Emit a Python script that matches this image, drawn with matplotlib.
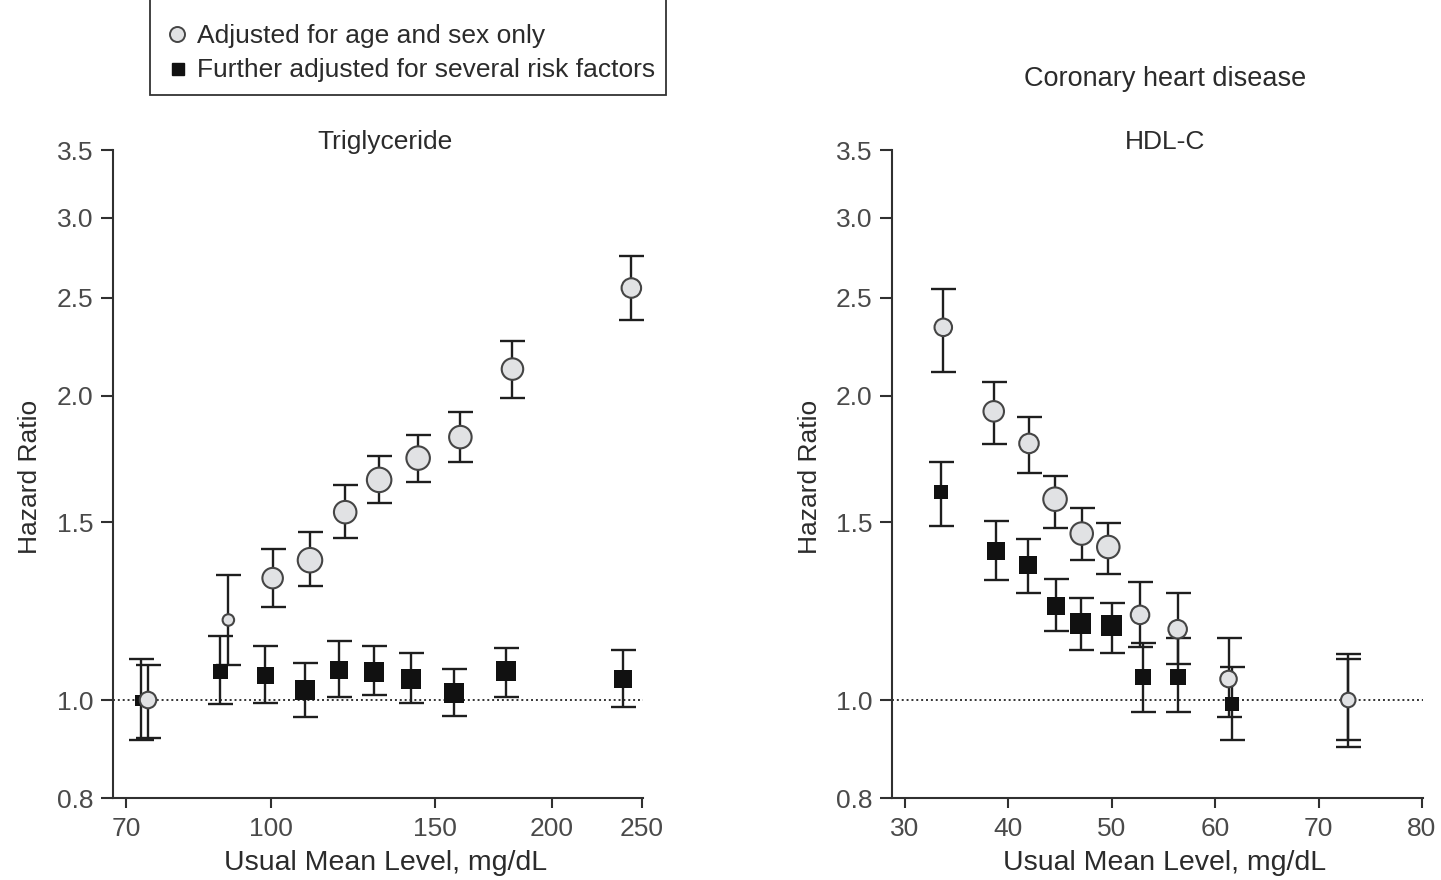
import matplotlib
matplotlib.use("Agg")
import matplotlib.pyplot as plt
from matplotlib.patches import Rectangle
from matplotlib.ticker import NullLocator

plt.rcParams['font.family'] = ['Liberation Sans', 'DejaVu Sans']

# ---------------- data ----------------
# Triglyceride panel
tg_age_x  = [73.9, 90.1, 100.5, 110.2, 120.2, 130.7, 143.9, 159.7, 181.6, 243.5]
tg_age_hr = [1.00, 1.20, 1.32, 1.375, 1.534, 1.651, 1.735, 1.820, 2.125, 2.556]
tg_age_lo = [0.917, 1.084, 1.236, 1.297, 1.446, 1.566, 1.643, 1.719, 1.99, 2.376]
tg_age_hi = [1.084, 1.33, 1.41, 1.466, 1.632, 1.743, 1.829, 1.927, 2.265, 2.749]

tg_adj_x  = [72.6, 88.3, 98.7, 108.9, 118.5, 128.9, 141.4, 157.2, 178.6, 238.3]
tg_adj_hr = [1.00, 1.066, 1.058, 1.023, 1.070, 1.066, 1.050, 1.017, 1.068, 1.048]
tg_adj_lo = [0.913, 0.990, 0.994, 0.963, 1.006, 1.011, 0.994, 0.964, 1.008, 0.985]
tg_adj_hi = [1.097, 1.156, 1.130, 1.089, 1.144, 1.130, 1.113, 1.073, 1.126, 1.120]

# HDL-C panel
hdl_age_x  = [33.70, 38.58, 41.99, 44.51, 47.09, 49.66, 52.73, 56.37, 61.29, 72.87]
hdl_age_hr = [2.337, 1.930, 1.794, 1.580, 1.461, 1.417, 1.214, 1.175, 1.049, 1.000]
hdl_age_lo = [2.109, 1.790, 1.678, 1.481, 1.375, 1.331, 1.129, 1.085, 0.962, 0.899]
hdl_age_hi = [2.548, 2.065, 1.904, 1.667, 1.547, 1.497, 1.309, 1.275, 1.152, 1.110]

hdl_adj_x  = [33.48, 38.80, 41.92, 44.60, 47.02, 49.99, 52.99, 56.37, 61.58, 72.87]
hdl_adj_hr = [1.606, 1.403, 1.361, 1.239, 1.190, 1.184, 1.055, 1.055, 0.991, 1.000]
hdl_adj_lo = [1.487, 1.313, 1.275, 1.170, 1.121, 1.114, 0.974, 0.974, 0.913, 0.913]
hdl_adj_hi = [1.721, 1.503, 1.442, 1.316, 1.261, 1.246, 1.138, 1.151, 1.078, 1.097]

# relative marker weights (diameter in pixels as drawn)
tg_age_size  = [18, 13, 22, 26, 24, 26, 25, 24, 23, 21]
tg_adj_size  = [11, 15, 17, 20, 18, 20, 20, 20, 20, 18]
hdl_age_size = [19, 22, 21, 25, 24, 24, 20, 20, 18, 16]
hdl_adj_size = [14, 18, 18, 18, 21, 21, 16, 16, 14, 10]

y_ticks = [0.8, 1.0, 1.5, 2.0, 2.5, 3.0, 3.5]
y_tick_labels = ['0.8', '1.0', '1.5', '2.0', '2.5', '3.0', '3.5']
tg_x_ticks = [70, 100, 150, 200, 250]
hdl_x_ticks = [30, 40, 50, 60, 70, 80]

legend_labels = ['Adjusted for age and sex only',
                 'Further adjusted for several risk factors']
panel_titles = ['Triglyceride', 'HDL-C']
suptitle = 'Coronary heart disease'
x_label = 'Usual Mean Level, mg/dL'
y_label = 'Hazard Ratio'

# ---------------- style ----------------
W, H = 1441, 880
PX = 0.72  # points per pixel at dpi=100
TXT = '#2b2b2b'
TICK_TXT = '#4a4a4a'
SPINE = '#303030'
CIRC_FACE = '#e1e2e4'
CIRC_EDGE = '#454545'
SQ = '#111111'

fig = plt.figure(figsize=(W / 100, H / 100), dpi=100)

ax_l = fig.add_axes([112.5 / W, 82 / H, 530.5 / W, 648 / H])
ax_r = fig.add_axes([892 / W, 82 / H, 531 / W, 648 / H])


def draw_panel(ax, cx, chr_, clo, chi, csz, sx, shr, slo, shi, ssz):
    # reference line
    ax.axhline(1.0, color='#333333', lw=1.4, ls=(0, (1.0, 1.5)), zorder=1)
    for x, y, lo, hi in [(sx, shr, slo, shi), (cx, chr_, clo, chi)]:
        yerr = [[v - l for v, l in zip(y, lo)], [h - v for v, h in zip(y, hi)]]
        ax.errorbar(x, y, yerr=yerr, fmt='none', ecolor='#1e1e1e',
                    elinewidth=1.7, capsize=9, capthick=1.7, zorder=2)
    ax.scatter(sx, shr, s=[(d * PX) ** 2 for d in ssz], marker='s',
               color=SQ, linewidths=0, zorder=3)
    ax.scatter(cx, chr_, s=[((d - 1.5) * PX) ** 2 for d in csz], marker='o',
               facecolor=CIRC_FACE, edgecolor=CIRC_EDGE, linewidths=1.5,
               zorder=4)
    ax.set_yscale('log')
    ax.set_ylim(0.8, 3.5)
    ax.set_yticks(y_ticks)
    ax.set_yticklabels(y_tick_labels)
    ax.yaxis.set_minor_locator(NullLocator())
    for s in ['top', 'right']:
        ax.spines[s].set_visible(False)
    for s in ['left', 'bottom']:
        ax.spines[s].set_linewidth(1.5)
        ax.spines[s].set_color(SPINE)
    ax.tick_params(axis='y', direction='out', length=9, width=1.5,
                   color=SPINE, labelsize=19, labelcolor=TICK_TXT, pad=5)
    ax.tick_params(axis='x', direction='out', length=7.5, width=1.5,
                   color=SPINE, labelsize=19, labelcolor=TICK_TXT, pad=6.5)
    ax.set_ylabel(y_label, fontsize=19, color=TXT)
    ax.yaxis.set_label_coords(-0.132, 0.495)
    ax.set_xlabel(x_label, fontsize=20.5, color=TXT)
    ax.xaxis.set_label_coords(0.514, -0.081)


draw_panel(ax_l, tg_age_x, tg_age_hr, tg_age_lo, tg_age_hi, tg_age_size,
           tg_adj_x, tg_adj_hr, tg_adj_lo, tg_adj_hi, tg_adj_size)
ax_l.set_xscale('log')
ax_l.set_xlim(67.7, 250.6)
ax_l.set_xticks(tg_x_ticks)
ax_l.set_xticklabels([str(t) for t in tg_x_ticks])
ax_l.xaxis.set_minor_locator(NullLocator())
ax_l.text(0.514, 1.002, panel_titles[0], transform=ax_l.transAxes,
          ha='center', va='baseline', fontsize=19, color=TXT)

draw_panel(ax_r, hdl_age_x, hdl_age_hr, hdl_age_lo, hdl_age_hi, hdl_age_size,
           hdl_adj_x, hdl_adj_hr, hdl_adj_lo, hdl_adj_hi, hdl_adj_size)
ax_r.set_xlim(28.74, 80.1)
ax_r.set_xticks(hdl_x_ticks)
ax_r.set_xticklabels([str(t) for t in hdl_x_ticks])
ax_r.text(0.514, 1.002, panel_titles[1], transform=ax_r.transAxes,
          ha='center', va='baseline', fontsize=19, color=TXT)

fig.text(1165 / W, 1 - 86 / H, suptitle, ha='center', va='baseline',
         fontsize=19.5, color=TXT)

# ---------------- legend box (top cut off as in original) ----------------
ov = fig.add_axes([0, 0, 1, 1], facecolor='none')
ov.set_xlim(0, W)
ov.set_ylim(H, 0)
ov.axis('off')
ov.add_patch(Rectangle((150, -40), 516, 135, facecolor='white',
                       edgecolor='#333333', lw=1.3, clip_on=False))
ov.plot([177], [34], marker='o', ms=15 * PX, mfc=CIRC_FACE, mec=CIRC_EDGE,
        mew=1.4, ls='none')
ov.plot([178], [69], marker='s', ms=12 * PX, color=SQ, ls='none')
ov.text(197, 43, legend_labels[0], ha='left', va='baseline', fontsize=19,
        color=TXT)
ov.text(197, 77, legend_labels[1], ha='left', va='baseline', fontsize=19,
        color=TXT)

fig.savefig('out.png', dpi=100)
